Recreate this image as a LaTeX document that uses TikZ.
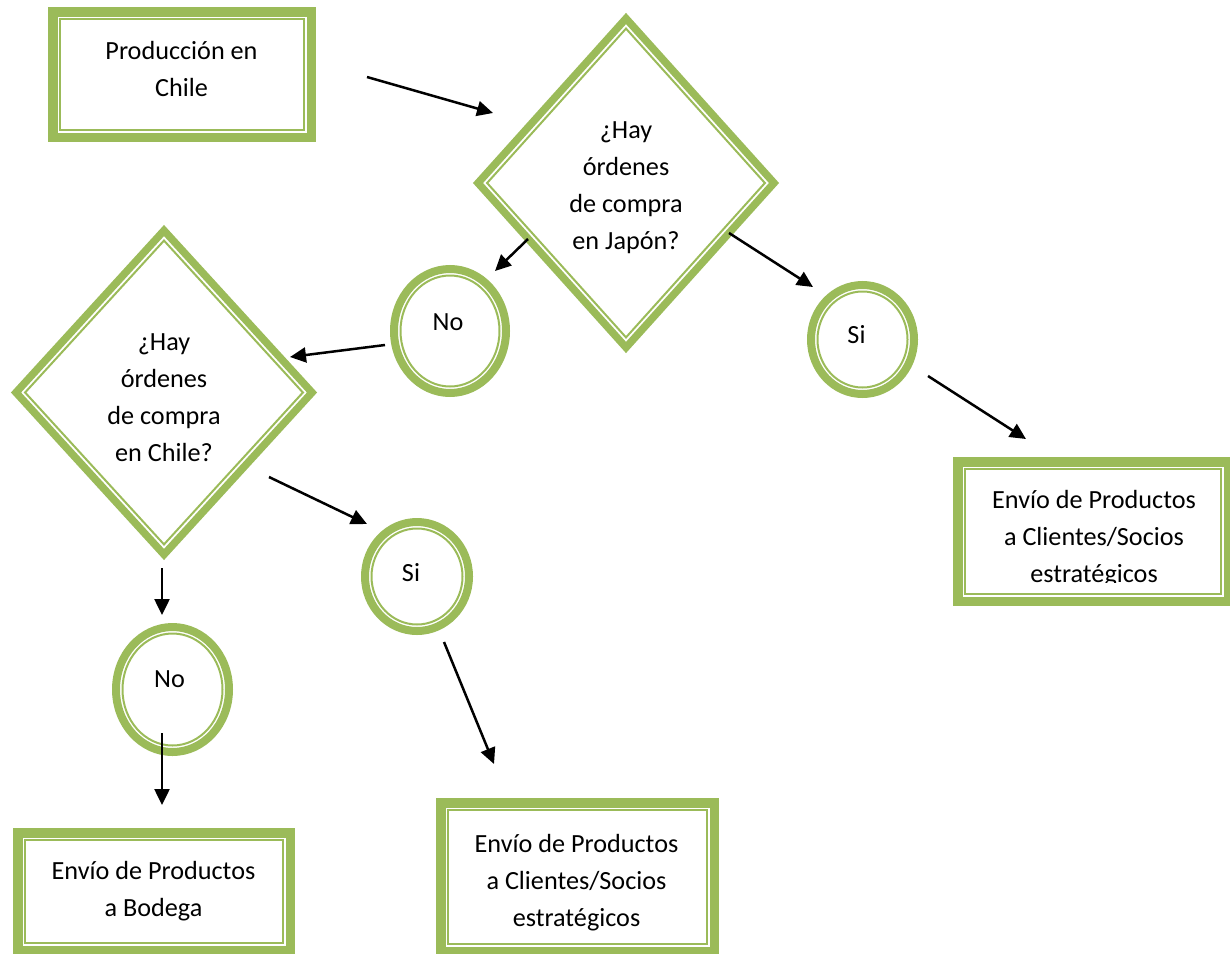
\documentclass[tikz,border=0pt]{standalone}
\usepackage{fontspec}
\setmainfont{Carlito}
\usetikzlibrary{shapes.geometric,arrows.meta}
\definecolor{okgreen}{RGB}{155,187,89}
\begin{document}
\begin{tikzpicture}[x=1pt,y=-1pt,
  boxshape/.style={rectangle, draw=okgreen, line width=9.5pt, inner sep=0pt, outer sep=0pt},
  diashape/.style={diamond, draw=okgreen, line width=7.5pt, inner sep=0pt, outer sep=0pt, line join=miter},
  ovalshape/.style={ellipse, draw=okgreen, line width=8pt, inner sep=0pt, outer sep=0pt},
  innerline/.style={draw=okgreen, line width=2pt},
  txt/.style={font=\fontsize{26.2}{37}\selectfont, align=center, inner sep=0pt, text=black},
  arr/.style={-{Triangle[length=16pt,width=15pt]}, line width=2.5pt, black}
]
\useasboundingbox (0,0) rectangle (1230,953);

% ---------- shapes ----------
\node[boxshape, minimum width=258.5pt, minimum height=125.5pt] (prod) at (182,74.5) {};
\draw[innerline] ([shift={(7.25,7.25)}]prod.north west) rectangle ([shift={(-7.25,-7.25)}]prod.south east);
\node[txt] (prodt) at (181.5,69.2) {Producción en\\Chile};

\node[diashape, minimum width=296pt, minimum height=329pt] (djap) at (626,183) {};
\draw[innerline] ([shift={(0,10.1)}]djap.north) -- ([shift={(9.1,0)}]djap.west) -- ([shift={(0,-10.1)}]djap.south) -- ([shift={(-9.1,0)}]djap.east) -- cycle;
\node[txt] (djapt) at (626,188.2) {¿Hay\\órdenes\\de compra\\en Japón?};

\node[ovalshape, minimum width=112pt, minimum height=124pt] (cno1) at (450,331) {};
\draw[innerline] (cno1) ellipse [x radius=49.5pt, y radius=55.5pt];
\node[txt] (cno1t) at (448,322) {No};

\node[ovalshape, minimum width=103pt, minimum height=109pt] (csi1) at (862.5,339.5) {};
\draw[innerline] (csi1) ellipse [x radius=45pt, y radius=48pt];
\node[txt] (csi1t) at (856.5,335) {Si};

\node[boxshape, minimum width=270.5pt, minimum height=139.5pt] (envR) at (1093,531.5) {};
\draw[innerline] ([shift={(7.25,7.25)}]envR.north west) rectangle ([shift={(-7.25,-7.25)}]envR.south east);
\begin{scope}
  \clip (960,460) rectangle (1226,582);
  \node[txt] (envRt) at (1094,538.5) {Envío de Productos\\a Clientes/Socios\\estratégicos};
\end{scope}

\node[diashape, minimum width=296pt, minimum height=324pt] (dchi) at (164,392.5) {};
\draw[innerline] ([shift={(0,10.1)}]dchi.north) -- ([shift={(9.1,0)}]dchi.west) -- ([shift={(0,-10.1)}]dchi.south) -- ([shift={(-9.1,0)}]dchi.east) -- cycle;
\node[txt] (dchit) at (164,397.8) {¿Hay\\órdenes\\de compra\\en Chile?};

\node[ovalshape, minimum width=104pt, minimum height=109pt] (csi2) at (417,576.5) {};
\draw[innerline] (csi2) ellipse [x radius=45.5pt, y radius=48pt];
\node[txt] (csi2t) at (411,572.5) {Si};

\node[ovalshape, minimum width=113pt, minimum height=125pt] (cno2) at (172.5,689.5) {};
\draw[innerline] (cno2) ellipse [x radius=50pt, y radius=56pt];
\node[txt] (cno2t) at (169.5,679.5) {No};

\node[boxshape, minimum width=272.5pt, minimum height=117.5pt] (envB) at (154,891.5) {};
\draw[innerline] ([shift={(7.25,7.25)}]envB.north west) rectangle ([shift={(-7.25,-7.25)}]envB.south east);
\node[txt] (envBt) at (153.5,891) {Envío de Productos\\a Bodega};

\node[boxshape, minimum width=273.5pt, minimum height=148.5pt] (envM) at (577.5,877) {};
\draw[innerline] ([shift={(7.25,7.25)}]envM.north west) rectangle ([shift={(-7.25,-7.25)}]envM.south east);
\node[txt] (envMt) at (576.5,882.5) {Envío de Productos\\a Clientes/Socios\\estratégicos};

% ---------- connector end points ----------
\coordinate (a1s) at (367,77);   \coordinate (a1e) at (493,113);
\coordinate (a2s) at (528,239);  \coordinate (a2e) at (495,271);
\coordinate (a3s) at (729,233);  \coordinate (a3e) at (813,287);
\coordinate (a4s) at (385,345);  \coordinate (a4e) at (290,357);
\coordinate (a5s) at (928,376);  \coordinate (a5e) at (1026,439);
\coordinate (a6s) at (269,477);  \coordinate (a6e) at (367,524);
\coordinate (a7s) at (162,568);  \coordinate (a7e) at (162,615);
\coordinate (a8s) at (162,733);  \coordinate (a8e) at (162,805);
\coordinate (a9s) at (444,642);  \coordinate (a9e) at (494,764);

% ---------- connectors ----------
\draw[arr] (a1s) -- (a1e);
\draw[arr] (a2s) -- (a2e);
\draw[arr] (a3s) -- (a3e);
\draw[arr] (a4s) -- (a4e);
\draw[arr] (a5s) -- (a5e);
\draw[arr] (a6s) -- (a6e);
\draw[arr] (a7s) -- (a7e);
\draw[arr] (a8s) -- (a8e);
\draw[arr] (a9s) -- (a9e);
\end{tikzpicture}
\end{document}
